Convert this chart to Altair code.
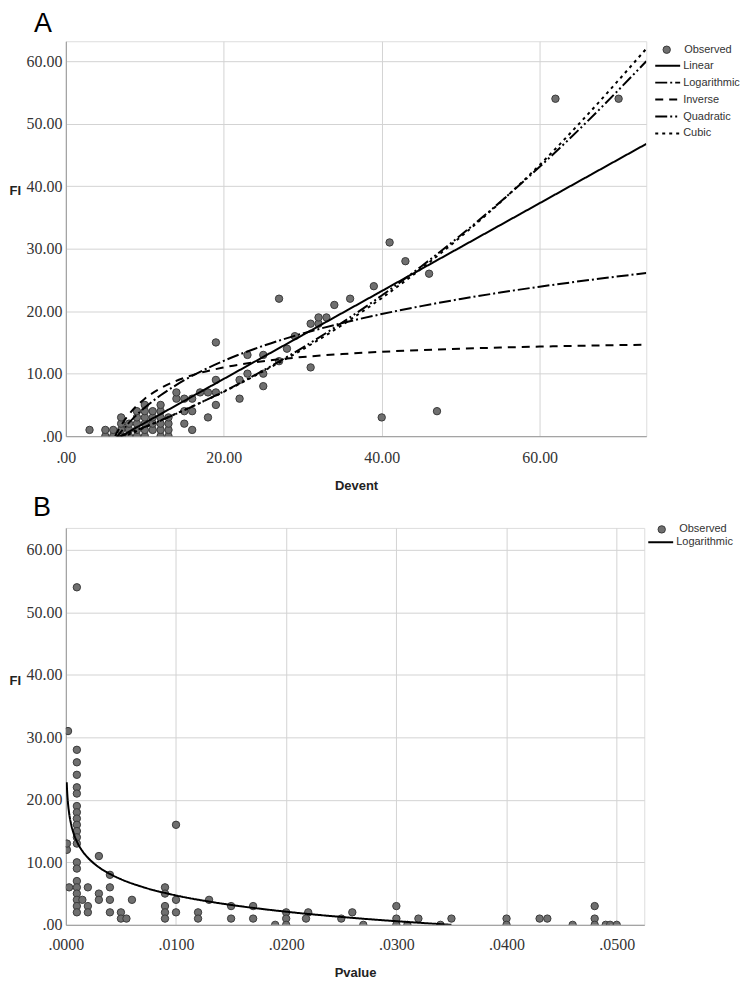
import altair as alt
import pandas as pd

# ---------------- Panel A data ----------------
a_obs_x = [5, 6, 7, 8, 9, 10, 12, 13,
           3, 5, 6, 7, 8, 9, 10, 11, 12, 13, 16,
           7, 8, 9, 10, 11, 12, 13, 15,
           7, 9, 10, 11, 12, 13, 18, 40,
           9, 10, 11, 12, 15, 16, 47,
           10, 12, 19,
           14, 15, 16, 22,
           14, 17, 18, 19,
           25, 19, 22, 23, 25, 31, 27, 23, 25, 28, 19, 29,
           31, 32, 32, 33, 34, 27, 36, 39, 46, 43, 41, 62, 70]
a_obs_y = [0, 0, 0, 0, 0, 0, 0, 0,
           1, 1, 1, 1, 1, 1, 1, 1, 1, 1, 1,
           2, 2, 2, 2, 2, 2, 2, 2,
           3, 3, 3, 3, 3, 3, 3, 3,
           4, 4, 4, 4, 4, 4, 4,
           5, 5, 5,
           6, 6, 6, 6,
           7, 7, 7, 7,
           8, 9, 9, 10, 10, 11, 12, 13, 13, 14, 15, 16,
           18, 18, 19, 19, 21, 22, 22, 24, 26, 28, 31, 54, 54]

a_curve_x = [6.25, 6.55, 7, 8, 10, 12, 15, 20, 25, 30, 35, 40, 45, 50, 55, 60, 65, 73.5]
a_linear = [-0.51, -0.30, 0.02, 0.72, 2.13, 3.54, 5.65, 9.16, 12.68, 16.19, 19.71, 23.22,
            26.74, 30.25, 33.77, 37.28, 40.80, 46.77]
a_log = [-0.51, 0.0, 0.72, 2.16, 4.57, 6.54, 8.95, 12.05, 14.46, 16.43, 18.10, 19.54,
         20.81, 21.95, 22.98, 23.92, 24.78, 26.11]
a_inverse = [0.0, 0.73, 1.71, 3.5, 6.0, 7.67, 9.33, 11.0, 12.0, 12.67, 13.14, 13.5,
             13.78, 14.0, 14.18, 14.33, 14.46, 14.64]
a_quadratic = [-0.32, -0.18, 0.03, 0.50, 1.48, 2.51, 4.16, 7.17, 10.51, 14.18, 18.18, 22.51,
               27.16, 32.15, 37.46, 43.11, 49.08, 59.99]
a_cubic = [-0.7, -0.5, -0.1, 0.3, 1.4, 2.5, 4.2, 7.1, 10.4, 13.9, 17.8, 22.1,
           26.8, 31.9, 37.4, 43.4, 50.0, 62.0]

a_models = ["Linear", "Logarithmic", "Inverse", "Quadratic", "Cubic"]
a_dashes = [[1, 0], [12, 3, 2, 3], [8, 6], [12, 3, 2, 3, 2, 3], [3, 4]]

a_x_ticks = [0, 20, 40, 60]
y_ticks = [0, 10, 20, 30, 40, 50, 60]

# ---------------- Panel B data ----------------
b_obs_x = [0.0001, 0.0001, 0.0002, 0.0003,
           0.001, 0.001, 0.001, 0.001, 0.001, 0.001, 0.001, 0.001, 0.001, 0.001, 0.001,
           0.001, 0.001, 0.001, 0.001, 0.001, 0.001, 0.001, 0.001, 0.001, 0.001,
           0.0015, 0.002, 0.002, 0.002, 0.003, 0.003, 0.003,
           0.004, 0.004, 0.004, 0.004, 0.005, 0.005, 0.0055, 0.006,
           0.009, 0.009, 0.009, 0.009, 0.009, 0.01, 0.01, 0.01,
           0.012, 0.012, 0.013, 0.015, 0.015, 0.017, 0.017, 0.019,
           0.02, 0.02, 0.02, 0.022, 0.0218, 0.025, 0.026, 0.027,
           0.03, 0.03, 0.03, 0.031, 0.032, 0.034, 0.035,
           0.04, 0.04, 0.043, 0.0437, 0.046, 0.048, 0.048, 0.048, 0.049, 0.0494, 0.05]
b_obs_y = [12, 13, 31, 6,
           54, 28, 26, 24, 22, 21, 19, 18, 17, 16, 15,
           14, 13, 10, 9, 7, 6, 5, 4, 3, 2,
           4, 6, 3, 2, 11, 5, 4,
           8, 6, 4, 2, 2, 1, 1, 4,
           6, 5, 3, 2, 1, 16, 4, 2,
           2, 1, 4, 3, 1, 3, 1, 0,
           2, 1, 0, 2, 1, 1, 2, 0,
           3, 1, 0, 0, 1, 0, 1,
           1, 0, 1, 1, 0, 3, 1, 0, 0, 0, 0]

b_curve_x = [0.00008, 0.0001, 0.0002, 0.0003, 0.0005, 0.0007, 0.001, 0.0015, 0.002, 0.003,
             0.004, 0.005, 0.007, 0.01, 0.013, 0.015, 0.02, 0.025, 0.03, 0.035]
b_log = [22.8, 21.97, 19.37, 17.85, 15.93, 14.67, 13.33, 11.81, 10.74, 9.21,
         8.14, 7.30, 6.04, 4.70, 3.72, 3.18, 2.10, 1.26, 0.58, 0.0]

b_x_ticks = [0, 0.01, 0.02, 0.03, 0.04, 0.05]

# ---------------- tables ----------------
dfA_obs = pd.DataFrame({"x": a_obs_x, "y": a_obs_y})
dfA_obs["series"] = "Observed"
rows = []
for name, ys in zip(a_models, [a_linear, a_log, a_inverse, a_quadratic, a_cubic]):
    for xv, yv in zip(a_curve_x, ys):
        rows.append({"x": xv, "y": yv, "model": name})
dfA_fit = pd.DataFrame(rows)

dfB_obs = pd.DataFrame({"x": b_obs_x, "y": b_obs_y})
dfB_obs["series"] = "Observed"
dfB_fit = pd.DataFrame({"x": b_curve_x, "y": b_log})
dfB_fit["model"] = "Logarithmic"

LABEL_FONT = "Liberation Serif"
TITLE_FONT = "Liberation Sans"
GRID = "#d3d3d3"
DOMAIN = "#9a9a9a"
PT_FILL = "#6f6f6f"
PT_STROKE = "#3a3a3a"
LINE_SYMBOL = "M-2,0H2"   # wide horizontal stroke, twice the nominal symbol width


def y_axis(title_y):
    return alt.Axis(values=y_ticks,
                    labelExpr="datum.value == 0 ? '.00' : format(datum.value, '.2f')",
                    title="FI", titleAngle=0, titleX=-57, titleY=title_y,
                    titleAlign="left", titleBaseline="middle",
                    titleFont=TITLE_FONT, titleFontWeight="bold", titleFontSize=13,
                    titleColor="#222",
                    ticks=False, labelPadding=4, labelFont=LABEL_FONT, labelFontSize=16,
                    labelColor="#333", gridColor=GRID, domainColor=DOMAIN)


def x_axis(values, expr, title, lpad, tpad):
    return alt.Axis(values=values, labelExpr=expr, title=title,
                    titleFont=TITLE_FONT, titleFontWeight="bold", titleFontSize=13,
                    titleColor="#222", titlePadding=tpad,
                    ticks=False, labelPadding=lpad, labelFont=LABEL_FONT, labelFontSize=16,
                    labelColor="#333", gridColor=GRID, domainColor=DOMAIN,
                    labelFlush=False)


def obs_legend(lx, ly):
    return alt.Legend(title=None, orient="none", legendX=lx, legendY=ly, padding=0,
                      symbolType="circle", symbolSize=55, symbolStrokeColor=PT_STROKE,
                      symbolStrokeWidth=1, symbolFillColor=PT_FILL,
                      labelFont=TITLE_FONT, labelFontSize=11, labelColor="#333",
                      labelOffset=12)


def line_legend(lx, ly):
    return alt.Legend(title=None, orient="none", legendX=lx, legendY=ly, padding=0,
                      symbolType=LINE_SYMBOL, symbolSize=156, symbolStrokeColor="black",
                      symbolStrokeWidth=2, rowPadding=4,
                      labelFont=TITLE_FONT, labelFontSize=11, labelColor="#333",
                      labelOffset=8)


# ---------------- Panel A ----------------
xA = alt.Scale(domain=[0, 73.5], nice=False, zero=False)
yA = alt.Scale(domain=[0, 63.2], nice=False, zero=False)

ptsA = alt.Chart(dfA_obs).mark_circle(size=55, opacity=1, stroke=PT_STROKE, strokeWidth=1,
                                      clip=True).encode(
    x=alt.X("x:Q", scale=xA,
            axis=x_axis(a_x_ticks, "datum.value == 0 ? '.00' : format(datum.value, '.2f')",
                        "Devent", 13, 14)),
    y=alt.Y("y:Q", scale=yA, axis=y_axis(150)),
    fill=alt.Fill("series:N", scale=alt.Scale(domain=["Observed"], range=[PT_FILL]),
                  legend=obs_legend(597, 3)),
)
linesA = alt.Chart(dfA_fit).mark_line(color="black", strokeWidth=2, clip=True,
                                      interpolate="monotone").encode(
    x=alt.X("x:Q", scale=xA),
    y=alt.Y("y:Q", scale=yA),
    strokeDash=alt.StrokeDash("model:N", sort=a_models,
                              scale=alt.Scale(domain=a_models, range=a_dashes),
                              legend=line_legend(596, 17)),
)
panelA = alt.layer(ptsA, linesA).properties(
    width=582, height=396,
    title=alt.TitleParams("A", anchor="start", frame="group", dx=-32, fontSize=27,
                          font=TITLE_FONT, fontWeight="normal", color="black", offset=3),
)

# ---------------- Panel B ----------------
xB = alt.Scale(domain=[0, 0.0525], nice=False, zero=False)
yB = alt.Scale(domain=[0, 63.5], nice=False, zero=False)

ptsB = alt.Chart(dfB_obs).mark_circle(size=55, opacity=1, stroke=PT_STROKE, strokeWidth=1,
                                      clip=True).encode(
    x=alt.X("x:Q", scale=xB,
            axis=x_axis(b_x_ticks, "substring(format(datum.value, '.4f'), 1)", "Pvalue",
                        12, 14)),
    y=alt.Y("y:Q", scale=yB, axis=y_axis(153)),
    fill=alt.Fill("series:N", scale=alt.Scale(domain=["Observed"], range=[PT_FILL]),
                  legend=obs_legend(592, -4)),
)
linesB = alt.Chart(dfB_fit).mark_line(color="black", strokeWidth=2, clip=True,
                                      interpolate="monotone").encode(
    x=alt.X("x:Q", scale=xB),
    y=alt.Y("y:Q", scale=yB),
    strokeDash=alt.StrokeDash("model:N",
                              scale=alt.Scale(domain=["Logarithmic"], range=[[1, 0]]),
                              legend=line_legend(589, 7)),
)
panelB = alt.layer(ptsB, linesB).properties(
    width=580, height=398,
    title=alt.TitleParams("B", anchor="start", frame="group", dx=-33, fontSize=27,
                          font=TITLE_FONT, fontWeight="normal", color="black", offset=2),
)

chart = alt.vconcat(panelA, panelB, spacing=0).resolve_scale(
    fill="independent", strokeDash="independent"
).resolve_legend(
    fill="independent", strokeDash="independent"
).properties(padding=0).configure_view(stroke=None).configure(background="white")

chart.save("out.html", embed_options={"renderer": "svg", "actions": False})
